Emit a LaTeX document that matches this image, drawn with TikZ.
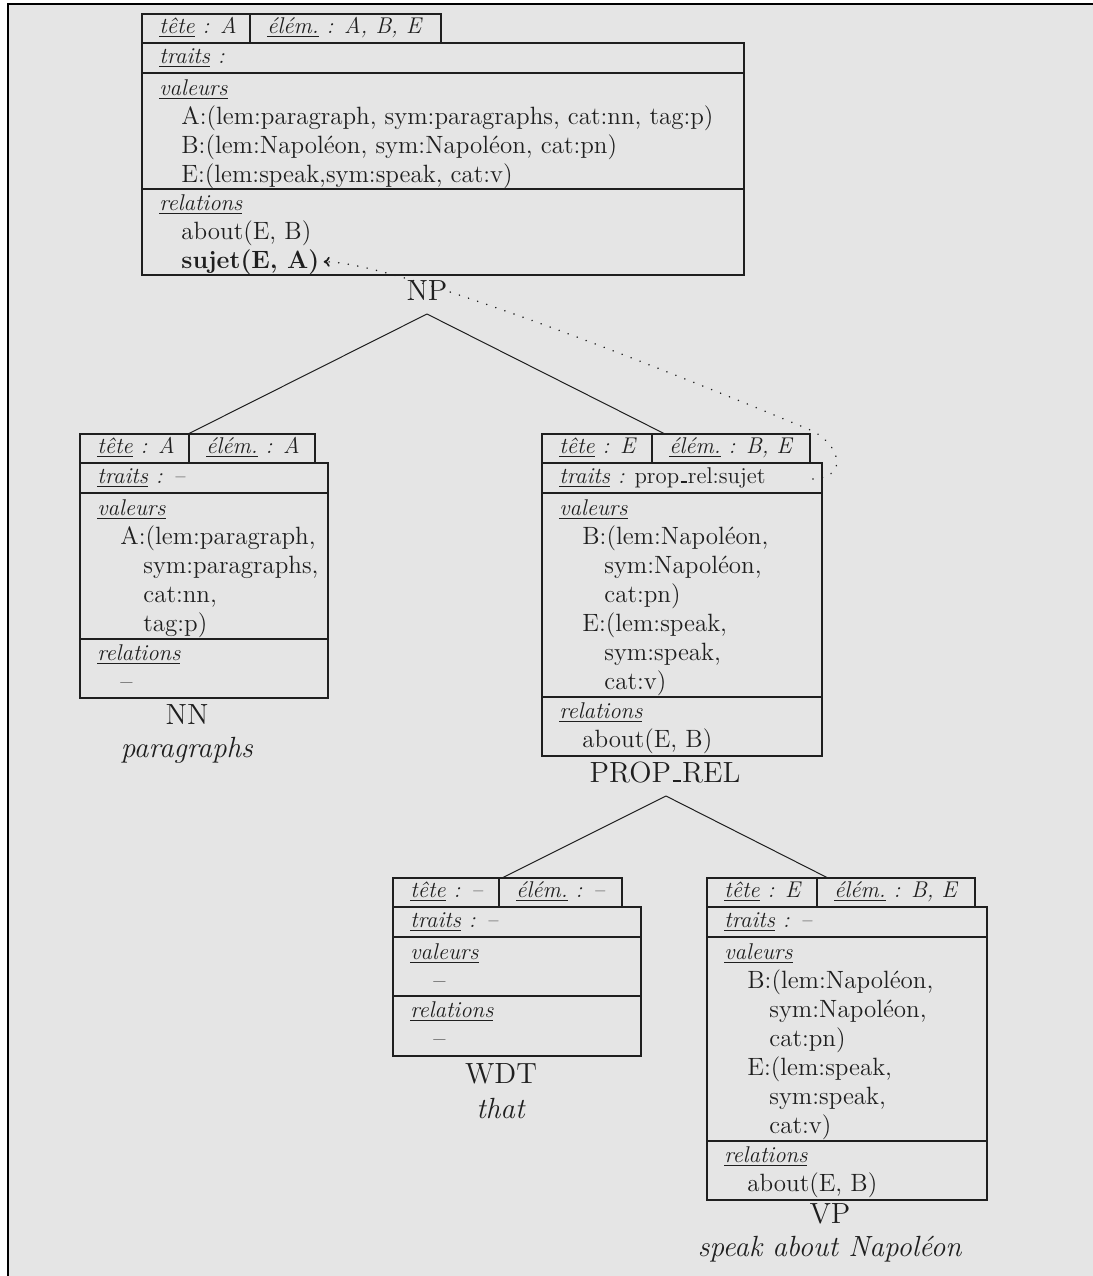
\documentclass[tikz,border=0pt]{standalone}
\usetikzlibrary{arrows.meta}
\definecolor{bg}{gray}{0.9}
\definecolor{ink}{gray}{0.12}
\newcommand\fld[1]{\underline{#1}}
\newcommand\usc{\leavevmode\kern.06em\vbox{\hrule width .3em height .9pt}\kern.02em}
\begin{document}
\begin{tikzpicture}[x=0.5pt,y=-0.5pt,
  font=\fontsize{12.5}{14.5}\selectfont,
  txt/.style={anchor=base west, inner sep=0pt, text=ink},
  lab/.style={txt, font=\fontsize{11.4}{14.5}\selectfont},
  lbl/.style={anchor=base, inner sep=0pt, text=ink, font=\fontsize{14.6}{17}\selectfont},
  boxline/.style={draw=ink, line width=1.3pt},
  treeline/.style={draw=ink, line width=0.5pt},
  dotline/.style={draw=ink, line width=0.85pt, line cap=round, dash pattern=on 0.01pt off 4.8pt, -{To[length=3pt,width=5pt]}}]
\useasboundingbox (0,0) rectangle (1093,1276);
\fill[bg] (8,4) rectangle (1093,1276);
\draw[black, line width=1pt] (1093,4) -- (8,4) -- (8,1276);

% ---------- top box (NP) ----------
\draw[boxline] (142,14) rectangle (441,43);
\draw[boxline] (250,14) -- (250,43);
\draw[boxline] (142,43) rectangle (744,275);
\draw[boxline] (142,73) -- (744,73);
\draw[boxline] (142,189) -- (744,189);
\node[lab] (npTete) at (159,33) {\textit{\fld{tête} : A}};
\node[lab] (npElem) at (267,33) {\textit{\fld{élém.} : A, B, E}};
\node[lab] (npTraits) at (159,63) {\textit{\fld{traits} :}};
\node[lab] (npVal) at (159,95) {\textit{\fld{valeurs}}};
\node[txt] (npA) at (181,124) {A:(lem:paragraph, sym:paragraphs, cat:nn, tag:p)};
\node[txt] (npB) at (181,153) {B:(lem:Napoléon, sym:Napoléon, cat:pn)};
\node[txt] (npE) at (181,182) {E:(lem:speak,sym:speak, cat:v)};
\node[lab] (npRel) at (159,210) {\textit{\fld{relations}}};
\node[txt] (npAbout) at (181,239) {about(E, B)};
\node[txt] (sujet) at (181,268) {\textbf{sujet(E, A)}};
\node[lbl] (NP) at (427,300) {NP};
\coordinate (npApex) at (427,314);

% ---------- left box (NN) ----------
\draw[boxline] (80,434) rectangle (315,463);
\draw[boxline] (189,434) -- (189,463);
\draw[boxline] (80,463) rectangle (328,698);
\draw[boxline] (80,493) -- (328,493);
\draw[boxline] (80,639) -- (328,639);
\node[lab] at (97,453) {\textit{\fld{tête} : A}};
\node[lab] at (206,453) {\textit{\fld{élém.} : A}};
\node[lab] at (97,483) {\textit{\fld{traits} : \textendash}};
\node[lab] at (97,515) {\textit{\fld{valeurs}}};
\node[txt] at (120,544) {A:(lem:paragraph,};
\node[txt] at (143,573) {sym:paragraphs,};
\node[txt] at (143,602) {cat:nn,};
\node[txt] at (143,631) {tag:p)};
\node[lab] at (97,660) {\textit{\fld{relations}}};
\node[txt] at (120,689) {\textendash};
\node[lbl] (NN) at (187,724) {NN};
\node[lbl] (paragraphs) at (187,757) {\textit{paragraphs}};
\coordinate (nnTop) at (188,434);

% ---------- middle box (PROP_REL) ----------
\draw[boxline] (542,434) rectangle (810,463);
\draw[boxline] (652,434) -- (652,463);
\draw[boxline] (542,463) rectangle (822,756);
\draw[boxline] (542,493) -- (822,493);
\draw[boxline] (542,697) -- (822,697);
\node[lab] at (559,453) {\textit{\fld{tête} : E}};
\node[lab] at (669,453) {\textit{\fld{élém.} : B, E}};
\node[lab] (prTraits) at (559,483) {\textit{\fld{traits} :} prop\usc rel:sujet};
\node[lab] at (559,515) {\textit{\fld{valeurs}}};
\node[txt] at (582,544) {B:(lem:Napoléon,};
\node[txt] at (604,573) {sym:Napoléon,};
\node[txt] at (604,602) {cat:pn)};
\node[txt] at (582,631) {E:(lem:speak,};
\node[txt] at (604,660) {sym:speak,};
\node[txt] at (604,689) {cat:v)};
\node[lab] at (559,718) {\textit{\fld{relations}}};
\node[txt] at (582,747) {about(E, B)};
\node[lbl] (PR) at (665,782) {PROP\usc REL};
\coordinate (prTop) at (665,434);
\coordinate (prApex) at (666,796);
\coordinate (dotStart) at (813,479);

% ---------- WDT box ----------
\draw[boxline] (393,878) rectangle (622,907);
\draw[boxline] (499,878) -- (499,907);
\draw[boxline] (393,907) rectangle (641,1056);
\draw[boxline] (393,937) -- (641,937);
\draw[boxline] (393,996) -- (641,996);
\node[lab] at (410,897) {\textit{\fld{tête} : \textendash}};
\node[lab] at (516,897) {\textit{\fld{élém.} : \textendash}};
\node[lab] at (410,927) {\textit{\fld{traits} : \textendash}};
\node[lab] at (410,959) {\textit{\fld{valeurs}}};
\node[txt] at (433,988) {\textendash};
\node[lab] at (410,1017) {\textit{\fld{relations}}};
\node[txt] at (433,1046) {\textendash};
\node[lbl] (WDT) at (501,1083) {WDT};
\node[lbl] (that) at (501,1118) {\textit{that}};
\coordinate (wdtTop) at (502,878);

% ---------- VP box ----------
\draw[boxline] (707,878) rectangle (975,907);
\draw[boxline] (817,878) -- (817,907);
\draw[boxline] (707,907) rectangle (987,1200);
\draw[boxline] (707,937) -- (987,937);
\draw[boxline] (707,1141) -- (987,1141);
\node[lab] at (724,897) {\textit{\fld{tête} : E}};
\node[lab] at (834,897) {\textit{\fld{élém.} : B, E}};
\node[lab] at (724,927) {\textit{\fld{traits} : \textendash}};
\node[lab] at (724,959) {\textit{\fld{valeurs}}};
\node[txt] at (747,988) {B:(lem:Napoléon,};
\node[txt] at (769,1017) {sym:Napoléon,};
\node[txt] at (769,1046) {cat:pn)};
\node[txt] at (747,1075) {E:(lem:speak,};
\node[txt] at (769,1104) {sym:speak,};
\node[txt] at (769,1133) {cat:v)};
\node[lab] at (724,1162) {\textit{\fld{relations}}};
\node[txt] at (747,1191) {about(E, B)};
\node[lbl] (VP) at (830,1223) {VP};
\node[lbl] (speak) at (830,1256) {\textit{speak about Napoléon}};
\coordinate (vpTop) at (828,878);

% ---------- tree connectors ----------
\draw[treeline] (npApex) -- (nnTop);
\draw[treeline] (npApex) -- (prTop);
\draw[treeline] (prApex) -- (wdtTop);
\draw[treeline] (prApex) -- (vpTop);

% ---------- dotted link ----------
\draw[dotline] (dotStart) .. controls (852,477) and (838,441) .. (808,429)
  .. controls (700,384) and (400,262) .. ([xshift=2pt]sujet.east);
\end{tikzpicture}
\end{document}
